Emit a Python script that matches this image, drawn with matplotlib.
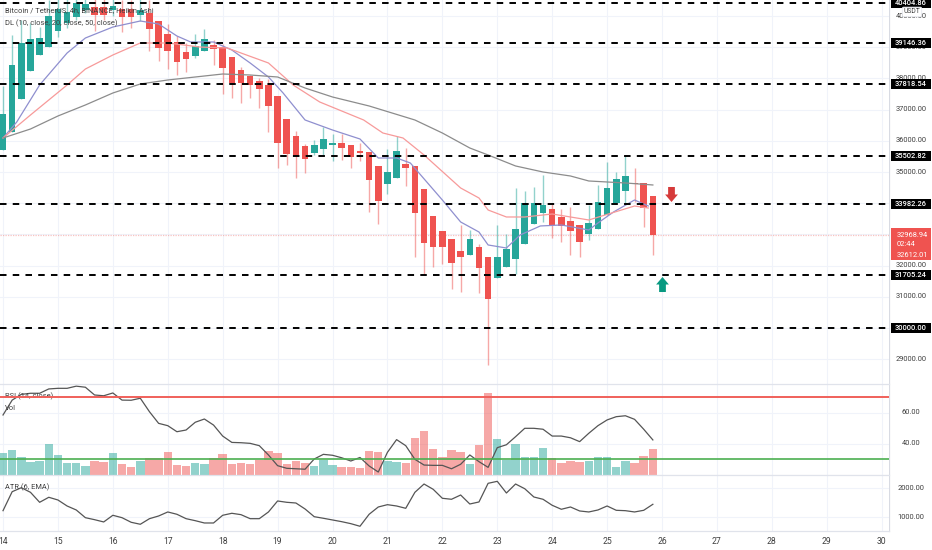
import matplotlib
matplotlib.use("Agg")
import matplotlib.pyplot as plt
from matplotlib.path import Path
from matplotlib.patches import Rectangle

plt.rcParams["font.family"] = ["Roboto", "DejaVu Sans"]

W, H = 932, 550
PLOT_W = 889  # right edge of the panes, px
TEAL = "#26a69a"
RED = "#ef5350"
TEXT = "#3f3f3f"
GRID = "#f0f3fa"

# 4h Heikin Ashi candles
opens = [35705, 36282, 37340, 38237, 38750, 39006, 39519, 39776, 39968, 40192, 40288, 40288,
         40192, 40224, 40224, 40032, 40096, 39840, 39423, 39167, 38846, 38718, 38878, 39071,
         39006, 38686, 38269, 38077, 37917, 37789, 37436, 36699, 36154, 35834, 35609, 35737,
         35866, 35930, 35866, 35673, 35641, 35193, 34616, 34808, 35257, 35193, 34455, 33590,
         33109, 32853, 32468, 32340, 32596, 32276, 31603, 31955, 32212, 32693, 33334, 33686,
         33814, 33558, 33430, 33302, 33013, 33173, 33622, 34007, 34391, 34648, 34648, 34231]
closes = [36860, 38430, 39135, 39263, 39295, 40000, 40224, 40128, 40417, 40385, 40032, 40032,
          40320, 39968, 39968, 40192, 39583, 38974, 38878, 38526, 38622, 39039, 39263, 38942,
          38333, 37853, 37853, 37789, 37660, 37116, 35930, 35577, 35513, 35417, 35866, 36058,
          35930, 35769, 35481, 35609, 34744, 34071, 35000, 35673, 35128, 33686, 32725, 32596,
          32596, 32084, 32276, 32853, 31923, 30930, 32276, 32532, 33173, 34007, 34007, 33943,
          33302, 33270, 33109, 32757, 33366, 34039, 34487, 34776, 34872, 34616, 33846, 32981]
highs = [37757, 39391, 39872, 39776, 39647, 40513, 40673, 40609, 40673, 40609, 40577, 40577,
         40577, 40513, 40513, 40577, 40513, 39840, 39744, 39359, 39135, 39423, 39583, 39231,
         39103, 38686, 38365, 38109, 38013, 37981, 37436, 36699, 36314, 35898, 36026, 36442,
         36218, 36218, 35866, 35930, 35641, 35193, 35737, 36154, 35769, 35193, 34455, 33590,
         33109, 32853, 33302, 33141, 32693, 32276, 33302, 33013, 34487, 34391, 34520, 34904,
         34007, 33814, 33878, 33302, 33943, 34584, 35321, 35000, 35513, 35128, 34648, 34231]
lows = [35705, 36282, 37340, 38237, 38750, 39006, 39327, 39615, 39872, 40096, 39519, 39872,
        40000, 39487, 39615, 39840, 38878, 38558, 38301, 38109, 38205, 38654, 38878, 38430,
        37500, 37372, 37212, 37372, 37051, 36282, 35128, 35225, 34808, 34968, 35545, 35545,
        35353, 35385, 35128, 35353, 33718, 33334, 34295, 34808, 34552, 32276, 31731, 31955,
        32052, 31250, 31154, 32340, 31122, 28815, 31603, 31955, 31731, 32693, 33334, 33398,
        32885, 32757, 32340, 32276, 32821, 33173, 33622, 34007, 34007, 34039, 33238, 32340]
volumes = [65, 75, 55, 40, 42, 93, 60, 35, 37, 27, 42, 39, 65, 33, 23, 42, 50, 50, 68, 30,
           27, 35, 33, 50, 63, 33, 36, 33, 45, 71, 67, 33, 42, 37, 27, 45, 30, 24, 24, 22,
           71, 68, 41, 39, 36, 110, 133, 77, 55, 75, 69, 33, 90, 245, 108, 45, 93, 55, 53, 81,
           50, 37, 42, 39, 41, 55, 55, 24, 42, 37, 57, 77]
rsi = [58.4, 68, 71.7, 72.4, 72.4, 75.2, 75.6, 75.6, 77, 76.3, 71.3, 70.8, 72.6, 68, 67.9, 69.2,
       60.5, 53, 51.5, 47.6, 48.7, 53.7, 55.8, 51.9, 44.8, 40.7, 40.5, 40.1, 38.6, 32.6, 25.7, 24,
       23.7, 23.4, 30, 33, 32.4, 30.8, 28.7, 31, 25.5, 21.6, 34.3, 42.5, 38.6, 29.8, 26.1, 25.9,
       25.9, 23.7, 26.6, 32.6, 28.3, 24.6, 37.3, 39.2, 44.4, 49.8, 49.8, 49.2, 44.8, 44.8, 43.7,
       41.2, 46.6, 51.5, 55.2, 57.3, 57.9, 55.6, 49.2, 42.3]
atr = [1226, 1874, 2010, 1853, 1512, 1683, 1591, 1386, 1250, 987, 919, 841, 1069, 987, 830, 762,
       953, 1045, 1182, 1103, 953, 885, 806, 806, 1069, 1137, 1090, 953, 953, 1182, 1557, 1512,
       1488, 1284, 1021, 967, 909, 851, 783, 694, 1103, 1352, 1431, 1386, 1307, 1853, 2136, 1955,
       1649, 1615, 1761, 1454, 1523, 2160, 2228, 1829, 2136, 1976, 1693, 1615, 1410, 1274, 1352,
       1216, 1182, 1250, 1386, 1239, 1226, 1182, 1239, 1444]

# moving averages, read at a few candles only
dl10_idx = [0, 1.5, 4, 7, 9, 12, 15, 17, 19, 20.5, 23, 25, 27, 29, 30.6, 33, 36, 39, 41, 43, 44.5,
            48, 50, 52, 53, 55, 56.5, 58.7, 61, 64, 65, 66.7, 69, 70.5]
dl10 = [36090, 36603, 37789, 38814, 39295, 39647, 39840, 39744, 39359, 39167, 39167, 38910, 38494,
        38045, 37532, 36667, 36346, 36058, 35449, 35449, 35289, 34103, 33398, 33077, 32661, 32564,
        32981, 33270, 33302, 33141, 33366, 33718, 34103, 33910]
dl20_idx = [0, 3, 7, 9, 12, 15, 18, 21.5, 24.5, 29, 31.7, 34.6, 39.4, 41.5, 43.7, 46, 50, 52, 53,
            55, 57, 60, 64, 66.5, 69, 70.5]
dl20 = [36090, 36827, 37789, 38301, 38750, 39135, 39135, 39006, 38974, 38494, 37789, 37244, 36667,
        36250, 36090, 35545, 34487, 34167, 33782, 33558, 33558, 33654, 33462, 33686, 33910, 33846]
dl50_idx = [0, 3, 6, 9, 12, 15, 18, 21, 24, 27, 30, 33, 36, 40, 45, 48, 51, 53, 56, 59, 62, 64, 68, 71]
dl50 = [36090, 36378, 36795, 37148, 37532, 37821, 37949, 38045, 38141, 38109, 38045, 37692, 37404,
        37116, 36667, 36250, 35769, 35545, 35193, 35000, 34872, 34712, 34648, 34584]

levels = [40404.86, 39146.36, 37818.54, 35502.82, 33982.26, 31705.24, 30000.00]
price_ticks = [29000, 31000, 32000, 35000, 36000, 37000, 38000, 39000, 40000]
price_grid = list(range(29000, 41000, 1000))
day_labels = [14, 15, 16, 17, 18, 19, 20, 21, 22, 23, 24, 25, 26, 27, 28, 29, 30]
last_close = 32968.94
prev_close = 32612.01
countdown = "02:44"
arrow_down_idx, arrow_down_price = [73], [34280]
arrow_up_idx, arrow_up_price = [72], [31410]
rsi_ticks = [40, 60]
rsi_bands = [70, 30]
atr_ticks = [1000, 2000]

CANDLES_PER_DAY = 6
day_idx = [(d - 14) * CANDLES_PER_DAY for d in day_labels]
xlim = (-0.33, 96.8)
LABEL_SIZE = 5.4
LEGEND_SIZE = 5.4


def pane(top, bottom):
    """Axes from pixel rows, counted from the top of the image."""
    ax = fig.add_axes([0, 1 - bottom / H, PLOT_W / W, (bottom - top) / H])
    ax.set_xlim(xlim)
    ax.set_xticks(day_idx)
    ax.tick_params(length=0, labelbottom=False, labelleft=False)
    ax.grid(True, color=GRID, lw=0.8)
    ax.set_axisbelow(True)
    for side in ("top", "left", "right", "bottom"):
        ax.spines[side].set_visible(False)
    return ax


def right_labels(ax, ticks):
    for t in ticks:
        ax.text(911 / PLOT_W, t, f"{t:.2f}", transform=ax.get_yaxis_transform(), va="center", ha="center",
                fontsize=LABEL_SIZE, color=TEXT, clip_on=False, zorder=6)


def boxed_label(ax, price, half_px=5):
    """Black level tag in the price scale, 40 px wide."""
    per_px = (ax.get_ylim()[1] - ax.get_ylim()[0]) / (ax.get_window_extent().height)
    ax.add_patch(Rectangle((891 / PLOT_W, price - half_px * per_px), 40 / PLOT_W, 2 * half_px * per_px,
                           transform=ax.get_yaxis_transform(), fc="black", ec="none", clip_on=False, zorder=9))
    ax.text(911 / PLOT_W, price, f"{price:.2f}", transform=ax.get_yaxis_transform(), va="center", ha="center",
            fontsize=LABEL_SIZE, color="white", fontweight="medium", clip_on=False, zorder=10)


fig = plt.figure(figsize=(W / 100, H / 100), dpi=100)

# ── price pane ─────────────────────────────────────────────────────────────────
ax = pane(0, 384)
ax.set_ylim(40000 - (384 - 16) / 0.0312, 40000 + 16 / 0.0312)
ax.set_yticks(price_grid)

for i, (o, c, h, l) in enumerate(zip(opens, closes, highs, lows)):
    col = TEAL if c >= o else RED
    ax.vlines(i, l, h, color=col, alpha=0.5, lw=1.0, zorder=2)
    ax.bar(i, abs(c - o), bottom=min(o, c), width=0.72, color=col, zorder=3, lw=0)

ax.plot(dl10_idx, dl10, color="#8f8fcf", lw=0.9, zorder=4)
ax.plot(dl20_idx, dl20, color="#f79a9a", lw=0.9, zorder=4)
ax.plot(dl50_idx, dl50, color="#8c8c8c", lw=0.9, zorder=4)

for lev in levels:
    ax.axhline(lev, color="black", lw=1.4, dashes=(3.35, 3.2), zorder=5)
ax.axhline(last_close, color=RED, alpha=0.35, lw=0.9, ls=(0, (1, 1)), zorder=1)

arrow_down = Path([(-0.45, 1), (0.45, 1), (0.45, 0), (0.85, 0), (0, -1), (-0.85, 0), (-0.45, 0), (-0.45, 1)], closed=True)
arrow_up = Path([(-0.45, -1), (0.45, -1), (0.45, 0), (0.85, 0), (0, 1), (-0.85, 0), (-0.45, 0), (-0.45, -1)], closed=True)
ax.scatter(arrow_down_idx, arrow_down_price, marker=arrow_down, s=117, color="#d63a3a", lw=0, zorder=6)
ax.scatter(arrow_up_idx, arrow_up_price, marker=arrow_up, s=117, color="#089981", lw=0, zorder=6)

ax.text(5 / PLOT_W, 1 - 11 / 384, "Bitcoin / TetherUS, 4h, BINANCE, Heikin Ashi", transform=ax.transAxes,
        fontsize=LEGEND_SIZE, color=TEXT, va="center", zorder=8)
ax.text(5 / PLOT_W, 1 - 23 / 384, "DL (10, close, 20, close, 50, close)", transform=ax.transAxes,
        fontsize=LEGEND_SIZE, color=TEXT, va="center", zorder=8)

right_labels(ax, price_ticks)
for lev in levels:
    boxed_label(ax, lev)

# red price badge, three lines
ax.add_patch(Rectangle((891 / PLOT_W, 32180), 40 / PLOT_W, 1025, transform=ax.get_yaxis_transform(),
                       fc=RED, ec="none", clip_on=False, zorder=9))
for price, txt in [(last_close, f"{last_close:.2f}"), (32676, countdown), (32308, f"{prev_close:.2f}")]:
    ax.text(897 / PLOT_W, price, txt, transform=ax.get_yaxis_transform(), va="center", ha="left",
            fontsize=LABEL_SIZE, color="white", clip_on=False, zorder=10)

ax.text(912 / PLOT_W, 40130, "USDT", transform=ax.get_yaxis_transform(), va="center", ha="center",
        fontsize=4.9, color=TEXT, clip_on=False, zorder=12,
        bbox=dict(boxstyle="round,pad=0.2", fc="white", ec="#e0e3eb", lw=0.5))

# ── RSI + volume pane ──────────────────────────────────────────────────────────
ax_rsi = pane(384, 475)
ax_rsi.set_ylim(60 - (475 - 412.5) / 1.55, 60 + (412.5 - 384) / 1.55)
ax_rsi.set_yticks(rsi_ticks + [20])

ax_vol = ax_rsi.twinx()
ax_vol.set_ylim(0, 273)
ax_vol.axis("off")
for i, (o, c, v) in enumerate(zip(opens, closes, volumes)):
    ax_vol.bar(i, v, width=0.92, color=TEAL if c >= o else RED, alpha=0.5, lw=0)
ax_vol.set_xlim(xlim)

ax_line = ax_rsi.twinx()
ax_line.set_ylim(ax_rsi.get_ylim())
ax_line.axis("off")
ax_line.plot(range(len(rsi)), rsi, color="#555555", lw=0.9, zorder=3)
ax_line.axhline(rsi_bands[0], color="#f0605a", lw=1.4, zorder=4)
ax_line.axhline(rsi_bands[1], color="#4caf50", lw=1.2, zorder=4)
ax_line.set_xlim(xlim)
ax_line.text(5 / PLOT_W, 1 - 12 / 91, "RSI (14, close)", transform=ax_line.transAxes,
             fontsize=LEGEND_SIZE, color=TEXT, va="center")
ax_line.text(5 / PLOT_W, 1 - 24 / 91, "Vol", transform=ax_line.transAxes,
             fontsize=LEGEND_SIZE, color=TEXT, va="center")
right_labels(ax_rsi, rsi_ticks)

# ── ATR pane ───────────────────────────────────────────────────────────────────
ax_atr = pane(475, 531)
ax_atr.set_ylim(2000 - (531 - 488) / 0.0293, 2000 + (488 - 475) / 0.0293)
ax_atr.set_yticks(atr_ticks)
ax_atr.plot(range(len(atr)), atr, color="#555555", lw=0.9)
ax_atr.text(5 / PLOT_W, 1 - 12 / 56, "ATR (6, EMA)", transform=ax_atr.transAxes,
            fontsize=LEGEND_SIZE, color=TEXT, va="center")
right_labels(ax_atr, atr_ticks)

ax_atr.tick_params(labelbottom=True, pad=4, labelsize=6.2, labelcolor=TEXT)
ax_atr.set_xticklabels([str(d) for d in day_labels])

# pane borders
for y in (384, 475, 531):
    fig.add_artist(plt.Line2D([0, PLOT_W / W], [1 - y / H] * 2, color="#e0e3eb", lw=0.9))
fig.add_artist(plt.Line2D([PLOT_W / W] * 2, [1 - 531 / H, 1], color="#d8dbe3", lw=0.9, zorder=0))

fig.savefig("out.png", dpi=100)
